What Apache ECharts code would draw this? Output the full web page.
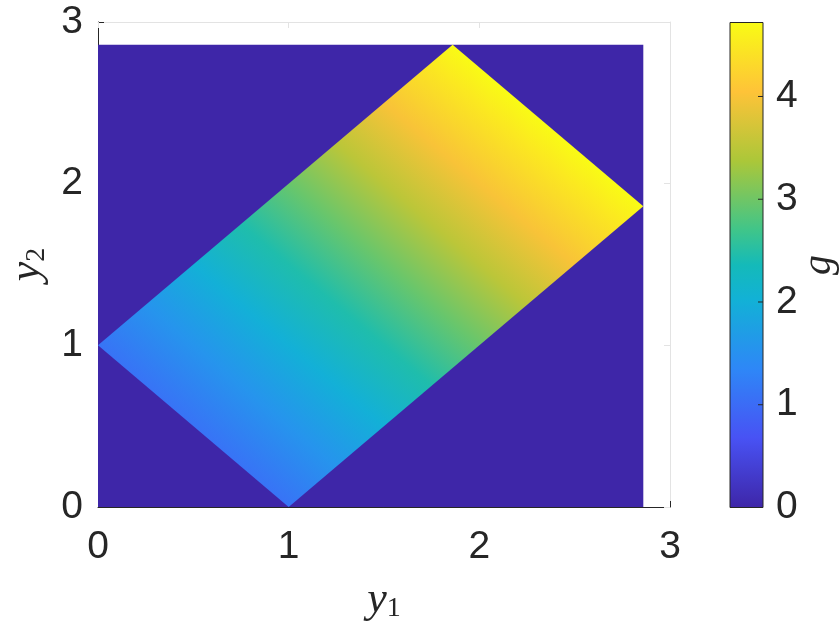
<!DOCTYPE html>
<html><head><meta charset="utf-8">
<script src="https://cdn.jsdelivr.net/npm/echarts@6/dist/echarts.min.js"></script>
<style>html,body{margin:0;padding:0;background:#fff}#c{width:840px;height:630px}#err{position:absolute;left:0;top:0;font:11px monospace;white-space:pre-wrap;color:#c00;width:840px}</style>
</head><body><div id="c"></div><div id="err"></div>
<script>
// ---------------- data ----------------
const xTicks = [0, 1, 2, 3];
const yTicks = [0, 1, 2, 3];
const cbarTicks = [0, 1, 2, 3, 4];
// extent of the coloured grid (background value 0)
const gridY1 = [0, 2.86];
const gridY2 = [0, 2.86];
const backgroundG = 0;
// corners of the non-zero region: left, bottom, right, top
const cornerY1 = [0, 1, 2.86, 1.86];
const cornerY2 = [1, 0, 1.86, 2.86];
// g read across the region, at positions y1 + y2
const sumLevels = [1.0, 1.5, 2.0, 2.5, 3.0, 3.5, 4.0, 4.5, 4.72];
const gValues   = [1.1, 1.55, 2.0, 2.45, 2.95, 3.5, 4.0, 4.5, 4.72];
const gRange = [0, 4.72];
// parula colour map
const parulaPos = [0, 1/7, 2/7, 3/7, 0.5, 4/7, 5/7, 6/7, 1];
const parulaCol = ['#3e26a8', '#4852f4', '#2e87f7', '#12b1d6', '#14bab9', '#3fc58a', '#abc739', '#fec338', '#f9fb15'];

// ---------------- helpers ----------------
function hex2rgb(h) { return [1, 3, 5].map(i => parseInt(h.substr(i, 2), 16)); }
const parulaRGB = parulaCol.map(hex2rgb);
function colorOf(g) {
  let t = (g - gRange[0]) / (gRange[1] - gRange[0]);
  t = Math.max(0, Math.min(1, t));
  let k = 0;
  while (k < parulaPos.length - 2 && t > parulaPos[k + 1]) k++;
  const f = (t - parulaPos[k]) / (parulaPos[k + 1] - parulaPos[k]);
  const a = parulaRGB[k], b = parulaRGB[k + 1];
  const c = a.map((v, i) => Math.round(v + (b[i] - v) * f));
  return 'rgb(' + c.join(',') + ')';
}

const TXT = '#262626';
const SANS = "'Liberation Sans', Arial, Helvetica, sans-serif";
const SERIF = "'Liberation Serif', 'DejaVu Serif', serif";
const FS = 39;
const nameRich = {
  v: { fontFamily: SERIF, fontStyle: 'italic', fontSize: 44, color: TXT, lineHeight: 46 },
  s: { fontFamily: SERIF, fontSize: 28, color: TXT, verticalAlign: 'bottom', lineHeight: 30 }
};

function renderBackground(params, api) {
  const p0 = api.coord([gridY1[0], gridY2[0]]);
  const p1 = api.coord([gridY1[1], gridY2[1]]);
  return {
    type: 'rect',
    shape: { x: p0[0], y: p1[1], width: p1[0] - p0[0], height: p0[1] - p1[1] },
    style: { fill: colorOf(backgroundG) }
  };
}

function renderField(params, api) {
  const P = cornerY1.map((x, i) => api.coord([x, cornerY2[i]]));
  const L = P[0], B = P[1], R = P[2];
  const dx = L[0] - B[0], dy = L[1] - B[1];
  let nx = -dy, ny = dx;
  const wx = R[0] - B[0], wy = R[1] - B[1];
  if (nx * wx + ny * wy < 0) { nx = -nx; ny = -ny; }
  const nl = Math.hypot(nx, ny); nx /= nl; ny /= nl;
  const len = nx * wx + ny * wy;
  const s0 = sumLevels[0], s1 = sumLevels[sumLevels.length - 1];
  const stops = sumLevels.map((s, i) => ({ offset: (s - s0) / (s1 - s0), color: colorOf(gValues[i]) }));
  return {
    type: 'polygon',
    shape: { points: P },
    style: {
      fill: new echarts.graphic.LinearGradient(B[0], B[1], B[0] + nx * len, B[1] + ny * len, stops, true)
    }
  };
}

function renderColorbar(params, api) {
  const p0 = api.coord([0, gRange[0]]);
  const p1 = api.coord([1, gRange[1]]);
  const children = [{
    type: 'rect',
    shape: { x: p0[0], y: p1[1], width: p1[0] - p0[0], height: p0[1] - p1[1] },
    style: {
      fill: new echarts.graphic.LinearGradient(0, p0[1], 0, p1[1],
        parulaPos.map((p, i) => ({ offset: p, color: parulaCol[i] })), true),
      stroke: TXT, lineWidth: 1
    }
  }];
  cbarTicks.forEach(v => {
    const q = api.coord([1, v]);
    children.push({ type: 'line', shape: { x1: q[0] - 5, y1: q[1], x2: q[0], y2: q[1] }, style: { stroke: TXT, lineWidth: 1 } });
  });
  return { type: 'group', children };
}

const tickLabelFmt = ticks => v => (ticks.indexOf(Math.round(v * 1000) / 1000) >= 0 ? String(v) : '');

try {
const chart = echarts.init(document.getElementById('c'), null, { renderer: 'canvas' });
chart.setOption({
  animation: false,
  backgroundColor: '#fff',
  grid: [
    { left: 98, top: 22, width: 572, height: 485, outerBoundsMode: 'none', containLabel: false },
    { left: 730, top: 22.5, width: 33, height: 485, outerBoundsMode: 'none', containLabel: false }
  ],
  xAxis: [
    {
      gridIndex: 0, type: 'value', min: 0, max: 3, interval: 1, position: 'bottom',
      axisLine: { onZero: false, lineStyle: { color: TXT, width: 1 } },
      axisTick: { inside: true, length: 6, lineStyle: { color: TXT } },
      axisLabel: { fontFamily: SANS, fontSize: FS, color: TXT, margin: 21, formatter: tickLabelFmt(xTicks) },
      splitLine: { show: false },
      name: '{v|y}{s|1}', nameLocation: 'middle', nameGap: 70,
      nameTextStyle: { rich: nameRich }
    },
    {
      gridIndex: 0, type: 'value', min: 0, max: 3, interval: 1, position: 'top',
      axisLine: { onZero: false, lineStyle: { color: '#e3e3e3', width: 1 } },
      axisTick: { inside: true, length: 6, lineStyle: { color: '#e3e3e3' } },
      axisLabel: { show: false }, splitLine: { show: false }
    },
    {
      gridIndex: 1, type: 'value', min: 0, max: 1, show: true,
      axisLine: { show: false, onZero: false }, axisTick: { show: false }, axisLabel: { show: false }, splitLine: { show: false }
    }
  ],
  yAxis: [
    {
      gridIndex: 0, type: 'value', min: 0, max: 3, interval: 1, position: 'left',
      axisLine: { onZero: false, lineStyle: { color: TXT, width: 1 } },
      axisTick: { inside: true, length: 6, lineStyle: { color: TXT } },
      axisLabel: { fontFamily: SANS, fontSize: FS, color: TXT, margin: 15, padding: [5, 0, 0, 0], formatter: tickLabelFmt(yTicks) },
      splitLine: { show: false },
      name: '{v|y}{s|2}', nameLocation: 'middle', nameGap: 33, nameRotate: 90,
      nameTextStyle: { rich: nameRich }
    },
    {
      gridIndex: 0, type: 'value', min: 0, max: 3, interval: 1, position: 'right',
      axisLine: { onZero: false, lineStyle: { color: '#e3e3e3', width: 1 } },
      axisTick: { inside: true, length: 6, lineStyle: { color: '#e3e3e3' } },
      axisLabel: { show: false }, splitLine: { show: false }
    },
    {
      gridIndex: 1, type: 'value', min: 0, max: 4.72, interval: 1, position: 'right',
      axisLine: { show: false, onZero: false },
      axisTick: { show: false },
      axisLabel: { fontFamily: SANS, fontSize: FS, color: TXT, margin: 13, padding: [4, 0, 0, 0], formatter: tickLabelFmt(cbarTicks) },
      splitLine: { show: false },
      name: 'g', nameLocation: 'middle', nameGap: 36, nameRotate: 90, nameMoveOverlap: false,
      nameTextStyle: { fontFamily: SERIF, fontStyle: 'italic', fontSize: 40, color: TXT }
    }
  ],
  series: [
    { type: 'custom', coordinateSystem: 'cartesian2d', xAxisIndex: 0, yAxisIndex: 0, renderItem: renderBackground, data: [[gridY1[1], gridY2[1]]], z: 2, silent: true },
    { type: 'custom', coordinateSystem: 'cartesian2d', xAxisIndex: 0, yAxisIndex: 0, renderItem: renderField, data: [[cornerY1[2], cornerY2[2]]], z: 3, silent: true },
    { type: 'custom', coordinateSystem: 'cartesian2d', xAxisIndex: 2, yAxisIndex: 2, renderItem: renderColorbar, data: [[1, gRange[1]]], z: 4, silent: true }
  ]
});
} catch (e) {
  document.getElementById('err').textContent = String(e && e.stack || e);
}
</script></body></html>
